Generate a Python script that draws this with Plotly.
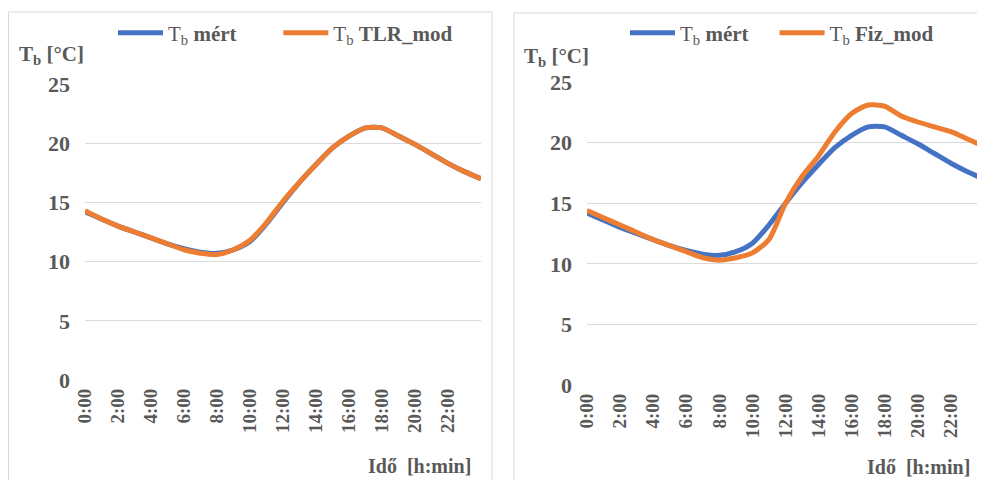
import plotly.graph_objects as go

HOURS = list(range(25))
TICK_HOURS = list(range(0, 24, 2))
TICK_LABELS = [f"{h}:00" for h in TICK_HOURS]
Y_TICKS = [0, 5, 10, 15, 20, 25]

# measured body temperature (°C), hourly readings
T_MERT = [14.2, 13.6, 13.0, 12.5, 12.0, 11.5, 11.1, 10.8, 10.7, 11.0, 11.7, 13.2,
          15.0, 16.7, 18.2, 19.6, 20.6, 21.3, 21.3, 20.6, 19.9, 19.1, 18.3, 17.6, 17.0]
# TLR model
T_TLR = [14.3, 13.6, 13.0, 12.5, 12.0, 11.5, 11.0, 10.7, 10.6, 11.0, 11.8, 13.3,
         15.1, 16.7, 18.2, 19.6, 20.6, 21.3, 21.3, 20.6, 19.9, 19.1, 18.3, 17.6, 17.0]
# physical model
T_FIZ = [14.4, 13.8, 13.2, 12.6, 12.0, 11.5, 11.0, 10.5, 10.3, 10.5, 10.9, 12.0,
         15.0, 17.2, 18.9, 20.9, 22.4, 23.1, 23.0, 22.2, 21.7, 21.3, 20.9, 20.3, 19.7]

BLUE = "#4472C4"
ORANGE = "#ED7D31"
GRID = "#D9D9D9"
TXT = "#595959"
OFF = 8  # page body margin
W, H = 985 - OFF, 480 - OFF
SERIF = "Liberation Serif, Tinos, Times New Roman, serif"

def px(x):
    return (x - OFF) / W

def py(y):
    return 1 - (y - OFF) / H

def line(color):
    return dict(color=color, width=5, shape="spline", smoothing=0.7)

NB = "&nbsp;"
fig = go.Figure()
fig.add_trace(go.Scatter(x=HOURS, y=T_MERT, mode="lines", name="T<sub>b</sub> <b>mért</b>" + NB * 7,
                         line=line(BLUE), xaxis="x", yaxis="y", legend="legend"))
fig.add_trace(go.Scatter(x=HOURS, y=T_TLR, mode="lines", name="T<sub>b</sub> <b>TLR_mod</b>",
                         line=line(ORANGE), xaxis="x", yaxis="y", legend="legend"))
fig.add_trace(go.Scatter(x=HOURS, y=T_MERT, mode="lines", name="T<sub>b</sub> <b>mért</b>" + NB * 4,
                         line=line(BLUE), xaxis="x2", yaxis="y2", legend="legend2"))
fig.add_trace(go.Scatter(x=HOURS, y=T_FIZ, mode="lines", name="T<sub>b</sub> <b>Fiz_mod</b>",
                         line=line(ORANGE), xaxis="x2", yaxis="y2", legend="legend2"))

tickfont_x = dict(family=SERIF, size=19, color=TXT, weight="bold")
tickfont_y = dict(family=SERIF, size=22, color=TXT, weight="bold")

xcommon = dict(range=[0, 24], tickmode="array", tickvals=TICK_HOURS, ticktext=TICK_LABELS,
               tickangle=-90, showgrid=False, zeroline=False, showline=False, ticks="",
               tickfont=tickfont_x, fixedrange=True, automargin=False, ticklabelstandoff=4)
ycommon = dict(range=[0, 25], tickmode="array", tickvals=Y_TICKS, showgrid=True, gridcolor=GRID,
               gridwidth=1, zeroline=False, showline=False, ticks="", tickfont=tickfont_y,
               ticklabelstandoff=14, fixedrange=True, automargin=False)

legfont = dict(family=SERIF, size=21, color=TXT)

fig.update_layout(
    template="none",
    width=W, height=H,
    margin=dict(l=0, r=0, t=0, b=0, autoexpand=False),
    paper_bgcolor="white", plot_bgcolor="white",
    showlegend=True,
    xaxis=dict(domain=[px(85), px(481)], anchor="y", **xcommon),
    yaxis=dict(domain=[py(380), py(84)], anchor="x", **ycommon),
    xaxis2=dict(domain=[px(587), px(984)], anchor="y2", **xcommon),
    yaxis2=dict(domain=[py(385), py(82)], anchor="x2", **ycommon),
    legend=dict(orientation="h", x=px(113), y=py(33), xanchor="left", yanchor="middle",
                font=legfont, bgcolor="rgba(0,0,0,0)", itemwidth=45, tracegroupgap=0),
    legend2=dict(orientation="h", x=px(625), y=py(33), xanchor="left", yanchor="middle",
                 font=legfont, bgcolor="rgba(0,0,0,0)", itemwidth=45, tracegroupgap=0),
    shapes=[
        dict(type="rect", xref="paper", yref="paper", x0=px(8.5), x1=px(492), y0=-0.02, y1=py(12),
             line=dict(color=GRID, width=1), layer="below"),
        dict(type="rect", xref="paper", yref="paper", x0=px(514), x1=1.02, y0=-0.02, y1=py(13),
             line=dict(color=GRID, width=1), layer="below"),
    ],
    annotations=[
        dict(text="T<sub>b</sub> [°C]", xref="paper", yref="paper", x=px(17), y=py(55),
             xanchor="left", yanchor="middle", showarrow=False,
             font=dict(family=SERIF, size=21, color=TXT, weight="bold")),
        dict(text="T<sub>b</sub> [°C]", xref="paper", yref="paper", x=px(522), y=py(57),
             xanchor="left", yanchor="middle", showarrow=False,
             font=dict(family=SERIF, size=21, color=TXT, weight="bold")),
        dict(text="Idő  [h:min]", xref="paper", yref="paper", x=px(473), y=py(466),
             xanchor="right", yanchor="middle", showarrow=False,
             font=dict(family=SERIF, size=20, color=TXT, weight="bold")),
        dict(text="Idő  [h:min]", xref="paper", yref="paper", x=px(972), y=py(467),
             xanchor="right", yanchor="middle", showarrow=False,
             font=dict(family=SERIF, size=20, color=TXT, weight="bold")),
    ],
)

fig.write_html("out.html")
